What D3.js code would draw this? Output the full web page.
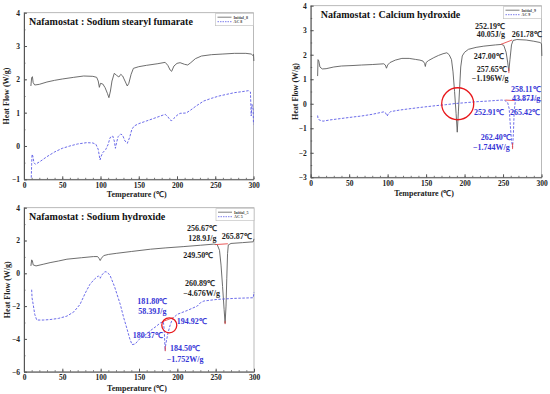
<!DOCTYPE html>
<html>
<head>
<meta charset="utf-8">
<script src="https://cdnjs.cloudflare.com/ajax/libs/d3/7.8.5/d3.min.js"></script>
<style>
  body { margin: 0; background: #fff; }
  svg { display: block; }
  text { font-family: "Liberation Serif", "Times New Roman", serif; font-weight: bold; }
</style>
</head>
<body>
<svg id="chart" width="550" height="394"></svg>
<script>
// ---- data ----
const tempTicks = [0, 50, 100, 150, 200, 250, 300];
const sfTicks = [-1, 0, 1, 2, 3, 4];
const chTicks = [-3, -2, -1, 0, 1, 2, 3, 4];
const shTicks = [-6, -4, -2, 0, 2, 4];

// [temperature, heat flow]
const sfInitial = [[9,1.8],[10,2.05],[11,2.08],[12,1.9],[14,1.83],[20,1.85],[30,1.92],[40,1.97],[50,2.01],[65,2.06],[78,2.1],[90,2.09],[95,2.06],[97,1.95],[98.5,1.76],[100,1.88],[103,1.86],[106,1.75],[109,1.58],[111,1.45],[113,1.65],[115,1.95],[118,2.18],[121,2.12],[124,2.07],[126.5,2.15],[129,2.1],[132,1.95],[135,1.8],[137,1.88],[140,2.15],[143,2.33],[150,2.38],[160,2.42],[175,2.47],[184.5,2.51],[188,2.42],[191,2.28],[193,2.24],[196,2.4],[200,2.48],[204,2.5],[210,2.45],[214,2.43],[218,2.5],[224,2.62],[232,2.7],[245,2.74],[260,2.76],[275,2.78],[290,2.78],[297,2.76],[299,2.72],[300,2.75],[300.5,2.55]];
const sfAC = [[9.5,-0.95],[10,-0.55],[10.5,-0.25],[11.5,-0.3],[13,-0.5],[15,-0.55],[22,-0.45],[30,-0.32],[40,-0.18],[50,-0.07],[60,0],[70,0.06],[82,0.1],[90,0.09],[94,0.05],[97,-0.1],[99.4,-0.42],[101,-0.3],[103,-0.2],[107,-0.1],[110,0.05],[112.5,0.25],[116,0.3],[118,0.15],[119.5,-0.07],[121,0.1],[123,0.28],[126.5,0.36],[129,0.32],[132,0.15],[135,0.08],[138,0.25],[141,0.5],[144,0.6],[150,0.67],[160,0.75],[170,0.83],[184.5,0.95],[188,0.88],[191,0.78],[193,0.76],[196,0.83],[200,0.92],[204,0.98],[212,0.99],[218,1.08],[225,1.2],[235,1.35],[245,1.43],[255,1.5],[265,1.55],[275,1.6],[285,1.63],[293.5,1.66],[296,1.62],[297,0.9],[298,1.25],[299.5,1.1],[300,0.65]];

const chInitial = [[9,1.13],[9.5,1.8],[10.5,1.75],[12,1.5],[15,1.42],[20,1.43],[30,1.5],[40,1.54],[55,1.56],[66,1.58],[80,1.6],[95,1.63],[97,1.58],[98.5,1.45],[100,1.58],[103,1.68],[110,1.78],[118.5,1.85],[128,1.85],[136,1.81],[142,1.78],[146,1.74],[148,1.65],[149,1.52],[150,1.68],[153,1.76],[160,1.88],[166,1.97],[172,2.04],[177,2.08],[180,2.0],[183,1.8],[185,1.3],[187,0.5],[189,-0.4],[190.5,-1.16],[192,-0.3],[193.5,0.6],[195,1.5],[197,1.95],[200,2.1],[205,2.22],[215,2.3],[225,2.35],[240,2.4],[248,2.42],[251,2.38],[254,2.1],[256,1.7],[257.5,1.33],[259,1.8],[261,2.4],[263,2.58],[268,2.62],[280,2.6],[290,2.55],[298,2.5],[300,2.45],[300.5,1.95]];
const chAC = [[9,-0.48],[9.5,-0.6],[11,-0.66],[16,-0.71],[25,-0.66],[40,-0.6],[55,-0.54],[66,-0.5],[80,-0.43],[95,-0.33],[97,-0.36],[99.4,-0.5],[101,-0.4],[104,-0.32],[115,-0.26],[127,-0.21],[145,-0.14],[162,-0.08],[175,-0.04],[188,0.01],[200,0.04],[214,0.08],[230,0.11],[248,0.15],[252,0.14],[256,0.05],[258,-0.2],[259.5,-0.9],[261,-1.5],[262.4,-1.78],[263.5,-1.2],[264.5,-0.3],[266,0.1],[268,0.18],[280,0.18],[290,0.17],[300,0.12]];

const shInitial = [[9,0.45],[10,0.82],[11,0.75],[12,0.51],[15.7,0.45],[25,0.55],[34,0.65],[45,0.75],[56,0.86],[75,0.95],[90.7,1.02],[96,1.02],[98,0.9],[99.4,0.78],[101,0.92],[104,1.08],[110,1.15],[121,1.22],[140,1.33],[165,1.47],[185,1.55],[208.5,1.63],[230,1.71],[247.7,1.78],[252,1.75],[255,1.4],[257,0.5],[259,-0.8],[261,-2.2],[262.3,-3.05],[263.5,-2.0],[264.5,-0.3],[265.5,1.2],[266.5,1.73],[270,1.82],[285,1.87],[299,1.92],[300,2.1]];
const shAC = [[10,-1.0],[10.5,-1.5],[12,-1.9],[14,-2.5],[16.6,-2.85],[25,-2.85],[34,-2.82],[45,-2.75],[56,-2.61],[65,-2.35],[73,-1.9],[80,-1.2],[86,-0.67],[92,-0.35],[97,-0.16],[99.4,-0.3],[101.6,-0.1],[105,0.08],[107,0.1],[110,0],[112.5,-0.16],[118,-0.8],[125.6,-1.9],[130,-2.7],[134,-3.33],[138,-4.0],[141,-4.35],[145,-4.31],[152,-3.94],[160,-3.7],[165,-3.49],[172,-3.25],[178,-3.02],[181.8,-2.95],[183,-3.5],[184,-4.7],[185,-4.3],[188,-3.6],[191,-3.1],[194,-2.75],[200,-2.5],[212.8,-2.27],[220,-2.12],[226,-2.0],[230,-1.8],[234.6,-1.69],[252,-1.59],[274,-1.53],[299,-1.49],[300,-1.15]];

// annotation labels: [temperature, heat flow, text, series]
const chLabels = [[213.6,3.05,'252.19℃','i'],[215.8,2.71,'40.05J/g','i'],[261.3,2.71,'261.78℃','i'],[211.9,1.83,'247.00℃','i'],[215.8,1.29,'257.65℃','i'],[209.3,0.92,'−1.196W/g','i'],
  [260.4,0.47,'258.11℃','a'],[261.7,0.10,'43.87J/g','a'],[212.3,-0.44,'252.91℃','a'],[259,-0.44,'265.42℃','a'],[221,-1.47,'262.40℃','a'],[211,-1.87,'−1.744W/g','a']];
const shLabels = [[212.6,2.57,'256.67℃','i'],[214.3,1.96,'128.9J/g','i'],[257.9,2.12,'265.87℃','i'],[207.8,0.95,'249.50℃','i'],[210,-0.76,'260.89℃','i'],[207.8,-1.39,'−4.676W/g','i'],
  [147.8,-1.86,'181.80℃','a'],[149.1,-2.51,'58.39J/g','a'],[199.2,-3.08,'194.92℃','a'],[141.8,-3.93,'180.37℃','a'],[190.4,-4.74,'184.50℃','a'],[186.1,-5.40,'−1.752W/g','a']];

// red onset/offset marks: [t1, hf1, t2, hf2]
const chMarks = [[247,2.42,261.8,2.6],[252.9,0.15,265.4,0.13],[257.6,1.25,257.6,1.45],[262.4,-1.85,262.4,-1.6]];
const shMarks = [[249.5,1.75,265.9,1.8],[180.4,-2.95,194.9,-2.7],[184.3,-4.75,184.3,-4.45],[262.3,-3.1,262.3,-2.9]];

// red circles: [temperature, heat flow, radius px]
const chCircles = [[191.1, 0, 16]];
const shCircles = [[189.5, -3.17, 7.5]];

// ---- layout ----
const panels = [
  {title: 'Nafamostat : Sodium stearyl fumarate', left: 24, right: 253.5, top: 12.7, bottom: 179.3,
   yDomain: [-1, 4], yTicks: sfTicks, yMinor: 0.5, initial: sfInitial, ac: sfAC, labels: [], marks: [], circles: [],
   legend: ['Initial_8', 'AC 8'], yLabelX: 9, xTitleY: 197},
  {title: 'Nafamostat : Calcium hydroxide', left: 310.7, right: 541.5, top: 5.7, bottom: 177.3,
   yDomain: [-3, 4], yTicks: chTicks, yMinor: 0.5, initial: chInitial, ac: chAC, labels: chLabels, marks: chMarks, circles: chCircles,
   legend: ['Initial_9', 'AC 9'], yLabelX: 298, xTitleY: 196},
  {title: 'Nafamostat : Sodium hydroxide', left: 24, right: 254, top: 207.7, bottom: 371.7,
   yDomain: [-6, 4], yTicks: shTicks, yMinor: 1, initial: shInitial, ac: shAC, labels: shLabels, marks: shMarks, circles: shCircles,
   legend: ['Initial_5', 'AC 5'], yLabelX: 10, xTitleY: 391}
];

const grayColor = '#5e5e5e';
const blueColor = '#5a5ae6';
const blueText = '#3535d6';

const svg = d3.select('#chart');

panels.forEach(p => {
  const x = d3.scaleLinear().domain([0, 300]).range([p.left, p.right]);
  const y = d3.scaleLinear().domain(p.yDomain).range([p.bottom, p.top]);
  const g = svg.append('g');

  // frame
  g.append('rect')
    .attr('x', p.left).attr('y', p.top)
    .attr('width', p.right - p.left).attr('height', p.bottom - p.top)
    .attr('fill', 'none').attr('stroke', '#a8a8a8').attr('stroke-width', 0.8);

  // minor ticks
  g.append('g')
    .attr('transform', `translate(0, ${p.bottom})`)
    .call(d3.axisBottom(x).tickValues(d3.range(0, 301, 10)).tickSize(-1.5).tickFormat(''))
    .call(a => a.select('.domain').remove())
    .selectAll('line').attr('stroke', '#777');
  g.append('g')
    .attr('transform', `translate(${p.left}, 0)`)
    .call(d3.axisLeft(y).tickValues(d3.range(p.yDomain[0], p.yDomain[1] + 0.001, p.yMinor)).tickSize(-1.5).tickFormat(''))
    .call(a => a.select('.domain').remove())
    .selectAll('line').attr('stroke', '#777');

  // major axes
  const xAxis = g.append('g')
    .attr('transform', `translate(0, ${p.bottom})`)
    .call(d3.axisBottom(x).tickValues(tempTicks).tickSizeInner(-3).tickSizeOuter(0).tickPadding(3));
  const yAxis = g.append('g')
    .attr('transform', `translate(${p.left}, 0)`)
    .call(d3.axisLeft(y).tickValues(p.yTicks).tickSizeInner(-3).tickSizeOuter(0).tickPadding(4)
      .tickFormat(d => d < 0 ? '−' + Math.abs(d) : d));
  [xAxis, yAxis].forEach(a => {
    a.select('.domain').attr('stroke', '#555');
    a.selectAll('line').attr('stroke', '#555');
    a.selectAll('text').attr('font-size', 7.5).attr('fill', '#222')
      .attr('font-family', '"Liberation Serif", serif').attr('font-weight', 'bold');
  });

  // axis titles
  g.append('text')
    .attr('x', (p.left + p.right) / 2 - 2).attr('y', p.xTitleY)
    .attr('text-anchor', 'middle').attr('font-size', 8).attr('fill', '#222')
    .text('Temperature (℃)');
  const yMid = (p.top + p.bottom) / 2;
  g.append('text')
    .attr('transform', `translate(${p.yLabelX}, ${yMid}) rotate(-90)`)
    .attr('text-anchor', 'middle').attr('font-size', 8).attr('fill', '#222')
    .text('Heat Flow (W/g)');

  // curves
  const line = d3.line().x(d => x(d[0])).y(d => y(d[1]));
  g.append('path').datum(p.initial)
    .attr('d', line).attr('fill', 'none').attr('stroke', grayColor).attr('stroke-width', 0.9);
  g.append('path').datum(p.ac)
    .attr('d', line).attr('fill', 'none').attr('stroke', blueColor).attr('stroke-width', 0.9)
    .attr('stroke-dasharray', '2.5,1.5');

  // red marks
  g.selectAll('.mark').data(p.marks).enter().append('line')
    .attr('x1', d => x(d[0])).attr('y1', d => y(d[1]))
    .attr('x2', d => x(d[2])).attr('y2', d => y(d[3]))
    .attr('stroke', '#e84848').attr('stroke-width', 0.9);

  // circles
  g.selectAll('.circ').data(p.circles).enter().append('circle')
    .attr('cx', d => x(d[0])).attr('cy', d => y(d[1])).attr('r', d => d[2])
    .attr('fill', 'none').attr('stroke', '#e8171b').attr('stroke-width', 1.3);

  // labels
  g.selectAll('.lab').data(p.labels).enter().append('text')
    .attr('x', d => x(d[0])).attr('y', d => y(d[1]))
    .attr('font-size', 8)
    .attr('fill', d => d[3] === 'i' ? '#1e1e1e' : blueText)
    .text(d => d[2]);

  // title
  g.append('text')
    .attr('x', p.left + (p === panels[1] ? 10 : 5)).attr('y', p.top + 12)
    .attr('font-size', 10).attr('fill', '#111')
    .text(p.title);

  // legend
  const lg = g.append('g').attr('transform', `translate(${p.right - 38}, ${p.top + 1})`);
  lg.append('rect').attr('width', 38).attr('height', 12)
    .attr('fill', '#fff').attr('stroke', '#bbb').attr('stroke-width', 0.6);
  lg.append('line').attr('x1', 2).attr('x2', 16).attr('y1', 3.5).attr('y2', 3.5)
    .attr('stroke', grayColor).attr('stroke-width', 0.8);
  lg.append('line').attr('x1', 2).attr('x2', 16).attr('y1', 8).attr('y2', 8)
    .attr('stroke', blueColor).attr('stroke-width', 0.8).attr('stroke-dasharray', '1.5,1');
  p.legend.forEach((t, i) => {
    lg.append('text').attr('x', 18).attr('y', 5 + i * 4.5)
      .attr('font-size', 4).attr('font-weight', 'normal').attr('fill', '#444').text(t);
  });
});
</script>
</body>
</html>
